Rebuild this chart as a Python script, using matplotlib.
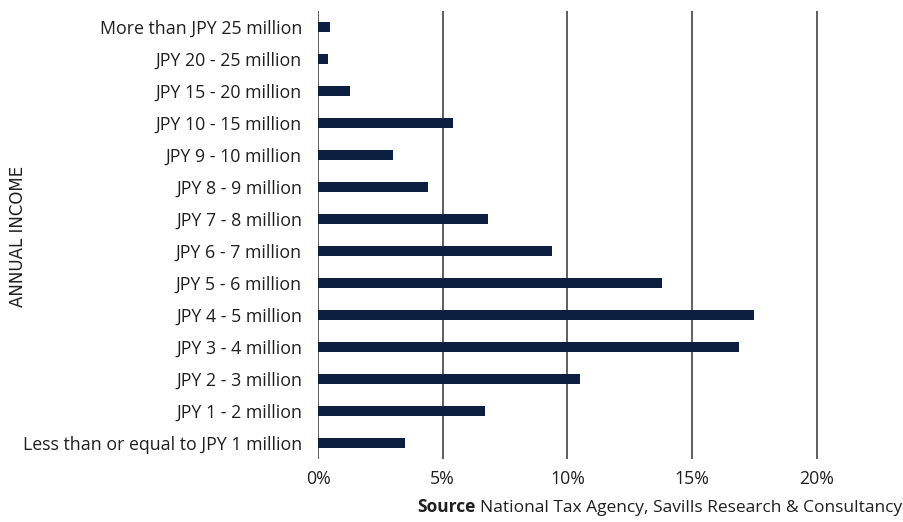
import matplotlib
matplotlib.use("Agg")
import matplotlib.pyplot as plt

# Share of taxpayers by annual income band (%)
categories = [
    "Less than or equal to JPY 1 million",
    "JPY 1 - 2 million",
    "JPY 2 - 3 million",
    "JPY 3 - 4 million",
    "JPY 4 - 5 million",
    "JPY 5 - 6 million",
    "JPY 6 - 7 million",
    "JPY 7 - 8 million",
    "JPY 8 - 9 million",
    "JPY 9 - 10 million",
    "JPY 10 - 15 million",
    "JPY 15 - 20 million",
    "JPY 20 - 25 million",
    "More than JPY 25 million",
]
shares = [3.5, 6.7, 10.5, 16.9, 17.5, 13.8, 9.4, 6.8, 4.4, 3.0, 5.4, 1.3, 0.4, 0.5]
xticks = [0, 5, 10, 15, 20]
xtick_labels = ["0%", "5%", "10%", "15%", "20%"]

FONT = "Open Sans"
TEXT = "#1f1f1f"
NAVY = "#0d1f40"
FS = 12.8

fig = plt.figure(figsize=(9.04, 5.22), dpi=100)
ax = fig.add_axes([0.3518, 0.1207, 0.6067, 0.8582])

ax.barh(range(len(categories)), shares, height=0.34, color=NAVY, zorder=3)

ax.set_ylim(-0.5, len(categories) - 0.5)
ax.set_xlim(0, 22)
ax.set_xticks(xticks)
ax.set_xticklabels(xtick_labels, fontsize=FS, family=FONT, color=TEXT)
ax.set_yticks(range(len(categories)))
ax.set_yticklabels(categories, fontsize=FS, family=FONT, color=TEXT)
ax.tick_params(axis="y", length=0, pad=11.5)
ax.tick_params(axis="x", length=0, pad=8)

ax.grid(axis="x", color="#333333", linewidth=1.1, zorder=1)
ax.grid(axis="y", visible=False)
for s in ax.spines.values():
    s.set_visible(False)

fig.text(0.02, 0.548, "ANNUAL INCOME", rotation=90, ha="center", va="center",
         fontsize=12, family="DejaVu Sans", color=TEXT)

# Source line: bold lead-in followed by regular text, right-aligned
src_y = 0.012
SRC_FS = 12.5
rest = fig.text(0.998, src_y, "National Tax Agency, Savills Research & Consultancy",
                ha="right", va="bottom", fontsize=SRC_FS, family=FONT, color=TEXT)
fig.canvas.draw()
rb = rest.get_window_extent()
fig.text(rb.x0 / fig.bbox.width - 0.005, src_y, "Source", ha="right", va="bottom",
         fontsize=SRC_FS, family=FONT, weight="bold", color=TEXT)

fig.savefig("out.png", dpi=100, facecolor="white")
